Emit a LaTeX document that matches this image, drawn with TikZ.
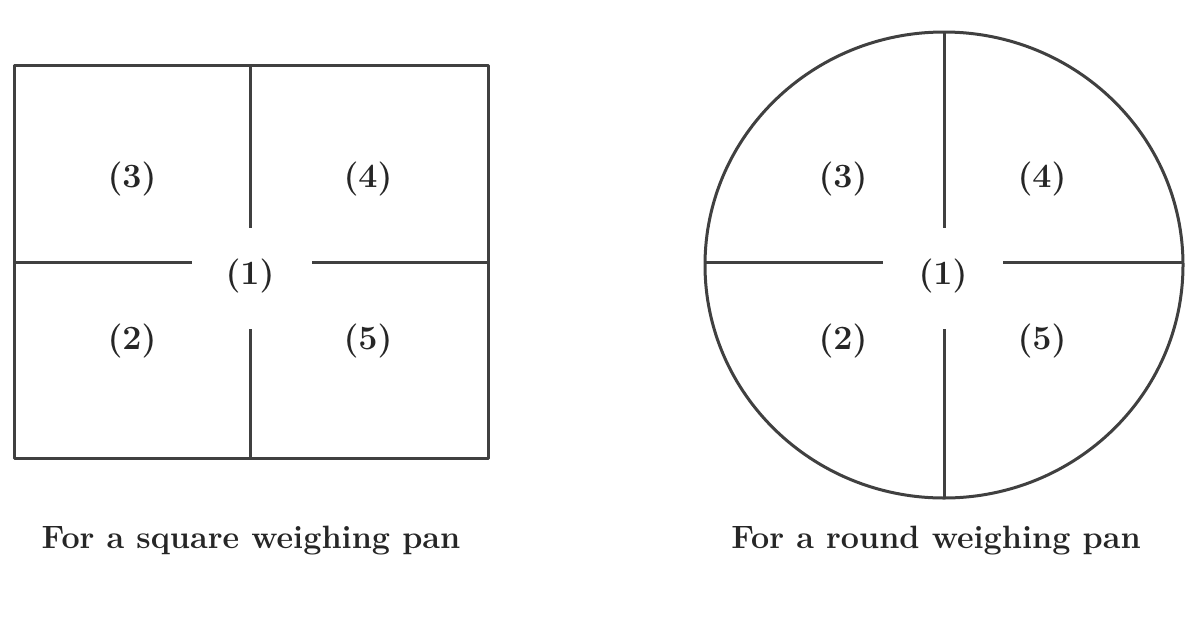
\documentclass[tikz,border=0pt]{standalone}
\begin{document}
\begin{tikzpicture}[x=1pt,y=-1pt,
  panline/.style={draw=black!75, line width=3pt},
  lbl/.style={inner sep=0pt, text=black!85, font=\fontsize{34}{36}\selectfont\bfseries},
  captext/.style={inner sep=0pt, text=black!85, font=\fontsize{32.3}{36}\selectfont\bfseries}]
\useasboundingbox[fill=white] (0,0) rectangle (1200,630);
% square pan
\draw[panline, line join=round] (14,65) rectangle (488,458);
\draw[panline] (250,65) -- (250,228);
\draw[panline] (250,329) -- (250,458);
\draw[panline] (14,262) -- (192,262);
\draw[panline] (312,262) -- (488,262);
\node[lbl] (s3) at (132,179) {(3)};
\node[lbl] (s4) at (368,179) {(4)};
\node[lbl] (s1) at (250,276) {(1)};
\node[lbl] (s2) at (132,341) {(2)};
\node[lbl] (s5) at (368,341) {(5)};
\node[captext] (scap) at (251,541) {For a square weighing pan};
% round pan
\draw[panline] (944,265) ellipse [x radius=239, y radius=233];
\draw[panline] (944,32) -- (944,228);
\draw[panline] (944,329) -- (944,498);
\draw[panline] (705,262) -- (883,262);
\draw[panline] (1003,262) -- (1183,262);
\node[lbl] (r3) at (843,179) {(3)};
\node[lbl] (r4) at (1042,179) {(4)};
\node[lbl] (r1) at (943,276) {(1)};
\node[lbl] (r2) at (843,341) {(2)};
\node[lbl] (r5) at (1042,341) {(5)};
\node[captext] (rcap) at (936,541) {For a round weighing pan};
\end{tikzpicture}
\end{document}
